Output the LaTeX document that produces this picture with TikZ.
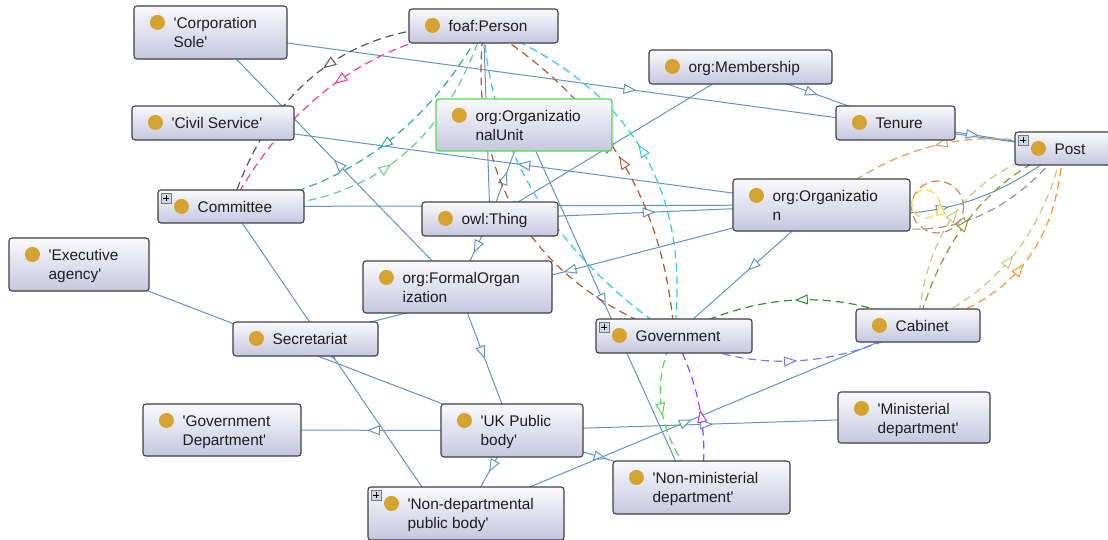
\documentclass[tikz,border=0pt]{standalone}
\usepackage{fontspec}
\newfontfamily\lab{Liberation Sans}
\usetikzlibrary{calc,arrows.meta,decorations.markings}
\pgfdeclarelayer{bg}
\pgfsetlayers{bg,main}
\definecolor{isablue}{RGB}{98,148,200}
\definecolor{boxtop}{RGB}{250,250,253}
\definecolor{boxbot}{RGB}{198,198,224}
\definecolor{boxline}{RGB}{64,64,64}
\definecolor{gold}{RGB}{212,163,48}
\definecolor{txt}{RGB}{30,30,30}
\definecolor{cGray}{RGB}{85,85,85}
\definecolor{cPink}{RGB}{255,60,140}
\definecolor{cTeal}{RGB}{50,170,170}
\definecolor{cLGreen}{RGB}{100,205,140}
\definecolor{cBrown}{RGB}{180,90,45}
\definecolor{cCyan}{RGB}{50,200,250}
\definecolor{cDGreen}{RGB}{50,140,50}
\definecolor{cLav}{RGB}{120,120,255}
\definecolor{cBGreen}{RGB}{85,220,85}
\definecolor{cPurple}{RGB}{170,60,235}
\definecolor{cLOrange}{RGB}{230,155,100}
\definecolor{cLGray}{RGB}{150,150,150}
\definecolor{cKhaki}{RGB}{200,200,130}
\definecolor{cOlive}{RGB}{150,150,40}
\definecolor{cOrange}{RGB}{255,150,50}
\definecolor{cLoop}{RGB}{220,130,80}
\definecolor{cYellow}{RGB}{255,215,50}
\definecolor{unitgreen}{RGB}{80,220,80}
\definecolor{plusfill}{RGB}{205,215,230}
\tikzset{
  clsbox/.style={draw=boxline, line width=1.1pt, rounded corners=3pt, top color=boxtop, bottom color=boxbot, inner sep=0pt},
  clstext/.style={anchor=base west, inner sep=0pt, text=txt, font=\lab\fontsize{15.4}{19}\selectfont},
  midarrow/.style={postaction={decorate}, decoration={markings, mark=at position #1 with {\arrow{Triangle[fill=white,length=13pt,width=10pt,line width=1pt]}}}},
  midarrow/.default=0.5,
  isa/.style={color=isablue, line width=1pt, midarrow},
  relline/.style={line width=1.2pt, dash pattern=on 8pt off 5pt},
}
\newcommand\cls[7][]{%
  \node[clsbox, minimum width=#5pt, minimum height=#6pt, #1] (#2) at (#3,#4) {};
  \fill[gold] ($(#2.north west)+(24,17)$) circle[radius=7.5pt];
  \node[clstext] (#2-t) at ($(#2.north west)+(40,23)$) {\begin{tabular}[t]{@{}l@{}}#7\end{tabular}};
}
\newcommand\plusicon[1]{%
  \draw[boxline!70, line width=0.6pt, fill=plusfill] ($(#1.north west)+(4,4)$) rectangle ($(#1.north west)+(14,14)$);
  \draw[black, line width=0.9pt] ($(#1.north west)+(6,9)$) -- ($(#1.north west)+(12,9)$) ($(#1.north west)+(9,6)$) -- ($(#1.north west)+(9,12)$);
}
\newcommand\relarc[4]{%
  \coordinate (ctl) at ($2*#4-0.5*(#2.center)-0.5*(#3.center)$);
  \draw[relline, #1, midarrow] (#2.center) .. controls ($(#2.center)!0.6667!(ctl)$) and ($(#3.center)!0.6667!(ctl)$) .. (#3.center);
}
\begin{document}
\begin{tikzpicture}[x=1pt, y=-1pt]
\useasboundingbox (0,0) rectangle (1108,539);
% classes
\cls{corp}{210.5}{32.5}{153}{53}{'Corporation\\Sole'}
\cls{person}{483.5}{26}{149}{34}{foaf:Person}
\cls{member}{740.5}{67}{183}{34}{org:Membership}
\cls{civil}{213}{123}{162}{34}{'Civil Service'}
\cls[draw=unitgreen, line width=1.4pt]{orgunit}{524}{125}{176}{52}{org:Organizatio\\nalUnit}
\cls{tenure}{895.5}{123}{119}{34}{Tenure}
\cls{post}{1062.5}{148.5}{95}{33}{Post}
\cls{committee}{231}{206.5}{146}{33}{Committee}
\cls{thing}{490}{219}{136}{34}{owl:Thing}
\cls{org}{821.5}{205}{177}{52}{org:Organizatio\\n}
\cls{exec}{79}{264.5}{140}{53}{'Executive\\agency'}
\cls{formal}{457.5}{287}{189}{52}{org:FormalOrgan\\ization}
\cls{secr}{305.5}{339}{145}{34}{Secretariat}
\cls{gov}{674}{336}{156}{34}{Government}
\cls{cabinet}{918}{325.5}{124}{33}{Cabinet}
\cls{govdept}{222}{430}{158}{52}{'Government\\Department'}
\cls{uk}{512}{430.5}{142}{53}{'UK Public\\body'}
\cls{minist}{914}{417.5}{152}{51}{'Ministerial\\department'}
\cls{nonmin}{701.5}{487.5}{177}{53}{'Non-ministerial\\department'}
\cls{nondep}{466}{513.5}{196}{53}{'Non-departmental\\public body'}
\plusicon{post}
\plusicon{committee}
\plusicon{gov}
\plusicon{nondep}
\begin{pgfonlayer}{bg}
\fill[white] (0,0) rectangle (1108,539);
% subclass links
\draw[isa] (corp.center) -- (post.center);
\draw[isa] (formal.center) -- (corp.center);
\draw[isa] (member.center) -- (tenure.center);
\draw[isa] (tenure.center) -- (post.center);
\draw[isa] (thing.center) -- (member.center);
\draw[isa] (org.center) -- (civil.center);
\draw[isa] (thing.center) -- (orgunit.center);
\draw[isa] (committee.center) -- (org.center);
\draw[isa] (thing.center) -- (org.center);
\draw[isa] (thing.center) -- (formal.center);
\draw[isa] (org.center) -- (secr.center);
\draw[isa] (org.center) -- (gov.center);
\draw[isa] (orgunit.center) -- ($(nonmin.center)+(-14,0)$);
\draw[isa] (committee.center) -- ($(nondep.center)+(-26,0)$);
\draw[isa] (exec.center) -- (uk.center);
\draw[isa] (formal.center) -- (uk.center);
\draw[isa] (uk.center) -- (govdept.center);
\draw[isa] (uk.center) -- (nondep.center);
\draw[isa] (uk.center) -- (nonmin.center);
\draw[isa] (uk.center) -- (minist.center);
\draw[isa] (nondep.center) -- (cabinet.center);
\draw[isa] (person.center) -- (thing.center);
% property links
\relarc{color=cGray}{person}{committee}{(325,67)}
\relarc{color=cPink}{person}{committee}{(337,82)}
\relarc{color=cTeal}{person}{committee}{(377,150)}
\relarc{color=cLGreen}{committee}{person}{(390,165)}
\relarc{color=cBrown}{gov}{person}{(519,218)}
\relarc{color=cCyan}{gov}{person}{(537,198)}
\relarc{color=cBrown}{gov}{person}{(620,158)}
\relarc{color=cCyan}{gov}{person}{(640,147)}
\relarc{color=cDGreen}{cabinet}{gov}{(797,300)}
\relarc{color=cLav}{gov}{cabinet}{(793,361)}
\relarc{color=cBGreen}{gov}{nonmin}{(662,412)}
\relarc{color=cPurple}{nonmin}{gov}{(700,410)}
\relarc{color=cLOrange}{post}{org}{(937,145)}
\relarc{color=cLGray}{post}{org}{(952,225)}
\relarc{color=isablue, solid, line width=1pt}{org}{post}{(948,207)}
\relarc{color=cKhaki}{cabinet}{post}{(960,207)}
\relarc{color=cOlive}{cabinet}{post}{(972,215)}
\relarc{color=cKhaki}{cabinet}{post}{(1012,257)}
\relarc{color=cOrange}{cabinet}{post}{(1023,265)}
\draw[relline, color=cLoop] ($(org.east)+(27,2)$) circle[radius=26pt];
\draw[relline, color=cYellow, midarrow=0.02] ($(org.east)+(15,-1)$) circle[radius=14pt];
\end{pgfonlayer}
\end{tikzpicture}
\end{document}
